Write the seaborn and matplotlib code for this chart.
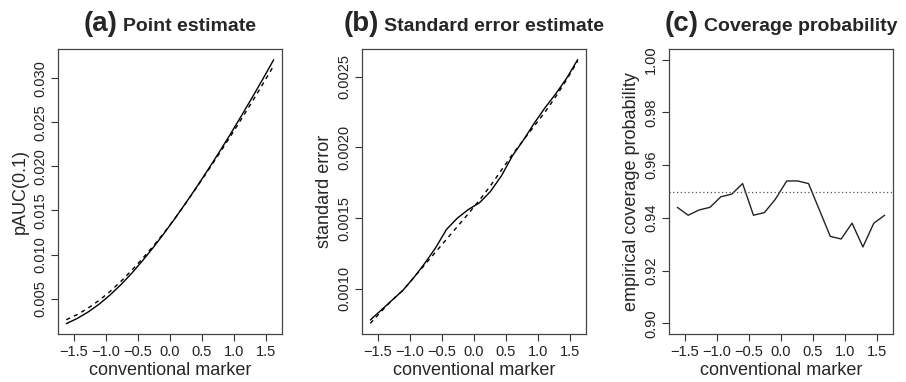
import matplotlib
matplotlib.use("Agg")
import matplotlib.pyplot as plt
import seaborn as sns
import pandas as pd

# marker grid (same 20 values in every panel)
marker = [-1.62, -1.45, -1.28, -1.11, -0.94, -0.77, -0.60, -0.43, -0.26, -0.09,
          0.09, 0.26, 0.43, 0.60, 0.77, 0.94, 1.11, 1.28, 1.45, 1.62]

# (a) point estimate of pAUC(0.1): true (solid) and estimated (dashed)
pauc_true = [0.00217, 0.00276, 0.00349, 0.00437, 0.00540, 0.00657, 0.00787, 0.00930,
             0.01082, 0.01243, 0.01423, 0.01599, 0.01781, 0.01969, 0.02162, 0.02361,
             0.02566, 0.02775, 0.02989, 0.03208]
pauc_est = [0.00262, 0.00320, 0.00393, 0.00480, 0.00580, 0.00694, 0.00820, 0.00955,
            0.01098, 0.01250, 0.01423, 0.01597, 0.01775, 0.01958, 0.02145, 0.02335,
            0.02530, 0.02728, 0.02932, 0.03140]

# (b) standard error: empirical (solid) and estimated (dashed)
se_emp = [0.000780, 0.000850, 0.000920, 0.000990, 0.001080, 0.001180, 0.001290, 0.001420,
          0.001500, 0.001560, 0.001610, 0.001690, 0.001800, 0.001940, 0.002050, 0.002170,
          0.002280, 0.002380, 0.002490, 0.002620]
se_est = [0.000756, 0.000840, 0.000920, 0.000990, 0.001080, 0.001170, 0.001260, 0.001350,
          0.001440, 0.001530, 0.001630, 0.001730, 0.001840, 0.001950, 0.002050, 0.002150,
          0.002250, 0.002360, 0.002480, 0.002610]

# (c) empirical coverage probability
coverage = [0.944, 0.941, 0.943, 0.944, 0.948, 0.949, 0.953, 0.941, 0.942, 0.947,
            0.954, 0.954, 0.953, 0.943, 0.933, 0.932, 0.938, 0.929, 0.938, 0.941]
nominal = 0.95

tags = ["(a)", "(b)", "(c)"]
titles = ["Point estimate", "Standard error estimate", "Coverage probability"]
ylabels = ["pAUC(0.1)", "standard error", "empirical coverage probability"]
yticks_a = [0.005, 0.010, 0.015, 0.020, 0.025, 0.030]
yticks_b = [0.0010, 0.0015, 0.0020, 0.0025]
yticks_c = [0.90, 0.92, 0.94, 0.96, 0.98, 1.00]
xticks = [-1.5, -1.0, -0.5, 0.0, 0.5, 1.0, 1.5]

sns.set_style("ticks")
plt.rcParams['font.family'] = ['Liberation Sans', 'DejaVu Sans']
plt.rcParams['axes.unicode_minus'] = True

df_a = pd.DataFrame({"x": marker, "true": pauc_true, "est": pauc_est})
df_b = pd.DataFrame({"x": marker, "emp": se_emp, "est": se_est})
df_c = pd.DataFrame({"x": marker, "cov": coverage})

fig = plt.figure(figsize=(9.06, 3.82), dpi=100)
W, H = 906, 382
lefts = [58, 362, 669]
axes = [fig.add_axes([l / W, 48 / H, 224 / W, 285 / H]) for l in lefts]
ax_a, ax_b, ax_c = axes

lw = 1.0
sns.lineplot(data=df_a, x="x", y="true", ax=ax_a, color="black", lw=lw, estimator=None)
sns.lineplot(data=df_a, x="x", y="est", ax=ax_a, color="black", lw=lw, estimator=None,
             linestyle=(0, (3, 3)))
sns.lineplot(data=df_b, x="x", y="emp", ax=ax_b, color="black", lw=lw, estimator=None)
sns.lineplot(data=df_b, x="x", y="est", ax=ax_b, color="black", lw=lw, estimator=None,
             linestyle=(0, (3, 3)))
sns.lineplot(data=df_c, x="x", y="cov", ax=ax_c, color="#222222", lw=lw, estimator=None)
ax_c.axhline(nominal, color="#555555", lw=0.9, linestyle=(0, (1, 2)))

ax_a.set_ylim(0.00100, 0.03330)
ax_b.set_ylim(0.000681, 0.002695)
ax_c.set_ylim(0.896, 1.004)
ax_a.set_yticks(yticks_a, [f"{v:.3f}" for v in yticks_a])
ax_b.set_yticks(yticks_b, [f"{v:.4f}" for v in yticks_b])
ax_c.set_yticks(yticks_c, [f"{v:.2f}" for v in yticks_c])

for ax, lab in zip(axes, ylabels):
    ax.set_xlim(-1.75, 1.75)
    ax.set_xticks(xticks, [f"{v:.1f}".replace("-", "\u2212") for v in xticks])
    ax.set_xlabel("conventional marker", fontsize=13, labelpad=2)
    ax.set_ylabel(lab, fontsize=13, labelpad=3)
    ax.tick_params(axis="both", labelsize=10.5, length=5, width=0.8, color="#333333",
                   labelcolor="#222222", pad=3, direction="out")
    for lbl in ax.get_yticklabels():
        lbl.set_rotation(90)
        lbl.set_va("center")
        lbl.set_ha("right")
    for s in ax.spines.values():
        s.set_visible(True)
        s.set_color("#444444")
        s.set_linewidth(0.9)

# two-part bold titles, centred over each panel
fig.canvas.draw()
r = fig.canvas.get_renderer()
base_y = (H - 31) / H
for ax, tag, title in zip(axes, tags, titles):
    t1 = fig.text(0, base_y, tag, fontsize=20, fontweight="bold", va="baseline")
    t2 = fig.text(0, base_y, title, fontsize=14, fontweight="bold", va="baseline")
    w1 = t1.get_window_extent(r).width
    w2 = t2.get_window_extent(r).width
    gap = 5
    pos = ax.get_position()
    cx = (pos.x0 + pos.width / 2) * W
    start = cx - (w1 + gap + w2) / 2
    t1.set_x(start / W)
    t2.set_x((start + w1 + gap) / W)

fig.savefig("out.png", dpi=100)
